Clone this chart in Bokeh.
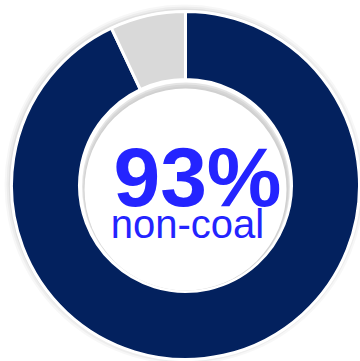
import math
from bokeh.plotting import figure
from bokeh.models import Range1d
from bokeh.core.properties import value
from bokeh.embed import file_html
from bokeh.resources import INLINE

labels = ["non-coal", "coal"]
shares = [93, 7]
colors = ["#03215E", "#D9D9D9"]
big_text = "93%"
sub_text = "non-coal"

W, H = 360, 361
p = figure(width=W, height=H, output_backend="svg", toolbar_location=None,
           x_range=Range1d(0, W), y_range=Range1d(0, H),
           min_border=0)
p.axis.visible = False
p.grid.visible = False
p.outline_line_color = None
p.background_fill_color = "white"
p.border_fill_color = "white"

cx, cy = 185, H - 185
R_out, R_in = 174, 106

# soft shadow outside
for i, a in enumerate([0.05, 0.04, 0.03]):
    p.circle(x=[cx - 1], y=[cy + 1], radius=R_out + 2 + 2 * i, fill_color="#000000",
             fill_alpha=a, line_color=None)
p.circle(x=[cx], y=[cy], radius=R_out + 1, fill_color="white", line_color=None)

total = sum(shares)
cum = 0
starts, ends = [], []
for s in shares:
    starts.append(math.pi / 2 - (cum + s) / total * 2 * math.pi)
    ends.append(math.pi / 2 - cum / total * 2 * math.pi)
    cum += s

p.annular_wedge(x=cx, y=cy, inner_radius=R_in, outer_radius=R_out,
                start_angle=starts, end_angle=ends, direction="anticlock",
                fill_color=colors, line_color="white", line_width=3)

# inner shadow inside hole
for i, a in enumerate([0.10, 0.06, 0.03]):
    p.circle(x=[cx + 0.5], y=[cy - 1 - i], radius=R_in - 2 - i, fill_color="#000000",
             fill_alpha=a, line_color=None)
p.circle(x=[cx], y=[cy - 4], radius=R_in - 5, fill_color="white", line_color=None)

p.text(x=[197], y=[H - 176], text=[big_text], text_align="center",
       text_baseline="alphabetic", text_font=value("Liberation Sans"),
       text_font_style="bold", text_font_size="84px", text_color="#2424FF")
p.text(x=[187], y=[H - 223], text=[sub_text], text_align="center",
       text_baseline="alphabetic", text_font=value("Liberation Sans"),
       text_font_size="40px", text_color="#2424FF")

open("out.html", "w").write(file_html(p, INLINE))
